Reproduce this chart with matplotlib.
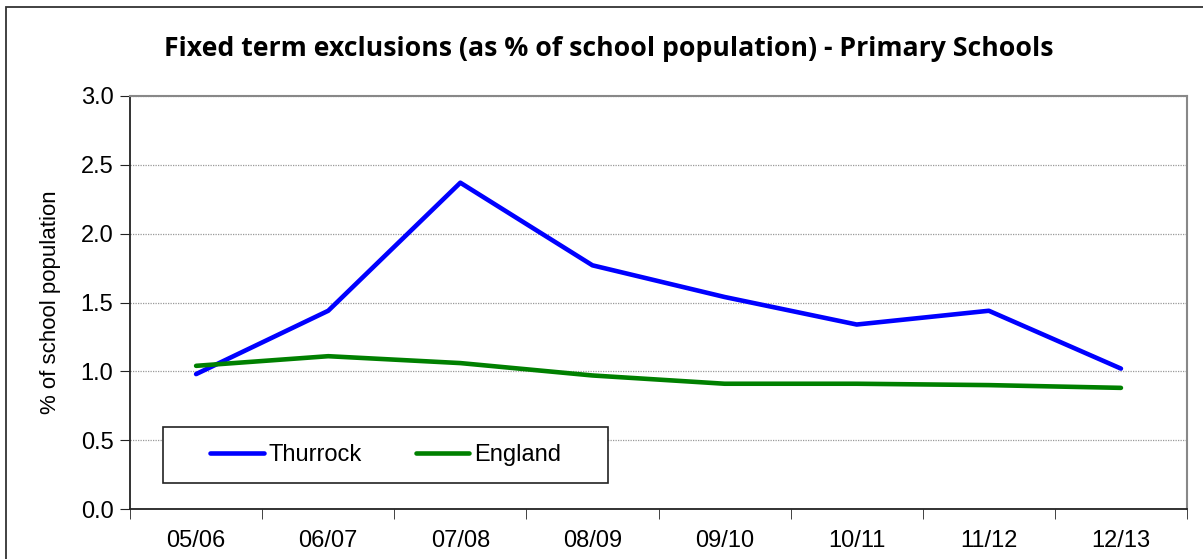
import matplotlib.pyplot as plt
from matplotlib.patches import Rectangle

years = ['05/06', '06/07', '07/08', '08/09', '09/10', '10/11', '11/12', '12/13']
thurrock = [0.98, 1.44, 2.37, 1.77, 1.54, 1.34, 1.44, 1.02]
england = [1.04, 1.11, 1.06, 0.97, 0.91, 0.91, 0.90, 0.88]

plt.rcParams['font.family'] = ['Liberation Sans', 'DejaVu Sans']

fig = plt.figure(figsize=(12.03, 5.59), dpi=100)
ax = fig.add_axes([0.1081, 0.0894, 0.8786, 0.7389])

x = range(len(years))
ax.plot(x, thurrock, color='#0000ff', lw=3.3, label='Thurrock', solid_capstyle='round')
ax.plot(x, england, color='#008000', lw=3.3, label='England', solid_capstyle='round')

ax.set_xlim(-0.5, len(years) - 0.5)
ax.set_ylim(0, 3.0)
ax.set_yticks([0, 0.5, 1.0, 1.5, 2.0, 2.5, 3.0])
ax.set_yticklabels(['%.1f' % v for v in ax.get_yticks()], fontsize=17)
ax.set_xticks(list(x))
ax.set_xticklabels(years, fontsize=17)
ax.tick_params(axis='x', length=0, pad=15)
ax.set_xticks([i - 0.5 for i in range(len(years) + 1)], minor=True)
ax.tick_params(axis='x', which='minor', length=7, direction='out', color='#222222')
ax.tick_params(axis='y', length=7, direction='out', color='#222222', pad=5)
ax.grid(axis='y', linestyle=(0, (1, 1)), color='#999999', lw=0.9)
ax.set_axisbelow(True)

for s in ['left', 'bottom']:
    ax.spines[s].set_color('#222222')
    ax.spines[s].set_linewidth(1.3)
for s in ['top', 'right']:
    ax.spines[s].set_color('#888888')
    ax.spines[s].set_linewidth(1.5)

ax.set_ylabel('% of school population', fontsize=16, labelpad=14)

leg = ax.legend(loc='center', bbox_to_anchor=(0.2417, 0.131), ncol=2, fontsize=17,
                frameon=False, handlelength=2.25, handletextpad=0.2,
                borderaxespad=0, columnspacing=2.3)
ax.add_patch(Rectangle((0.0312, 0.063), 0.4210, 0.1355, transform=ax.transAxes,
                       fill=True, facecolor='white', edgecolor='#222222', lw=1.2, zorder=4))
leg.set_zorder(5)

fig.text(0.506, 0.912, 'Fixed term exclusions (as % of school population) - Primary Schools',
         ha='center', va='center', fontsize=19.2, fontweight='bold',
         family=['Open Sans', 'DejaVu Sans'])

fig.patches.append(Rectangle((6 / 1203, -0.1), 1.2, 1.1 - 7 / 559,
                             transform=fig.transFigure, fill=False,
                             edgecolor='#333333', lw=1.3))

fig.savefig('out.png', dpi=100)
